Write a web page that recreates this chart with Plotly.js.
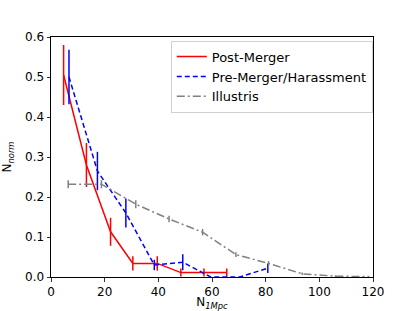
<!DOCTYPE html>
<html>
<head>
<meta charset="utf-8">
<script src="https://cdn.plot.ly/plotly-3.0.1.min.js"></script>
<style>html,body{margin:0;padding:0;background:#fff;}#chart{width:415px;height:311px;}</style>
</head>
<body>
<div id="chart"></div>
<script>
// Post-Merger
const postX = [4.7, 13.2, 22.2, 30.5, 39.6, 48.4, 57.0, 65.5];
const postY = [0.505, 0.28, 0.113, 0.034, 0.034, 0.011, 0.011, 0.011];
const postErr = [0.075, 0.055, 0.035, 0.018, 0.018, 0.01, 0.01, 0.01];
// Pre-Merger/Harassment
const preX = [6.7, 17.3, 27.9, 38.5, 49.1, 59.5, 70.3, 80.8];
const preY = [0.50, 0.265, 0.16, 0.03, 0.037, 0.0, 0.0, 0.022];
const preErr = [0.068, 0.048, 0.036, 0.013, 0.02, 0.0, 0.0, 0.012];
// Illustris
const illX = [6.4, 18.8, 31.6, 44.0, 56.5, 68.9, 81.1, 93.6, 106.0, 118.4];
const illY = [0.232, 0.232, 0.182, 0.145, 0.112, 0.056, 0.034, 0.008, 0.002, 0.001];
const illErr = [0.01, 0.01, 0.01, 0.008, 0.008, 0.006, 0.006, 0.003, 0.002, 0.001];

const xTicks = [0, 20, 40, 60, 80, 100, 120];
const yTicks = [0.0, 0.1, 0.2, 0.3, 0.4, 0.5, 0.6];

const traces = [
  {x: postX, y: postY, name: 'Post-Merger', mode: 'lines', type: 'scatter',
   line: {color: 'red', width: 1.5},
   error_y: {type: 'data', array: postErr, visible: true, width: 0, thickness: 1.5, color: 'red'}},
  {x: preX, y: preY, name: 'Pre-Merger/Harassment', mode: 'lines', type: 'scatter',
   line: {color: 'blue', width: 1.5, dash: '5px,3px'},
   error_y: {type: 'data', array: preErr, visible: true, width: 0, thickness: 1.5, color: 'blue'}},
  {x: illX, y: illY, name: 'Illustris', mode: 'lines', type: 'scatter',
   line: {color: 'gray', width: 1.5, dash: '8px,3px,2px,3px'},
   error_y: {type: 'data', array: illErr, visible: true, width: 0, thickness: 1.5, color: 'gray'}}
];

const fam = 'DejaVu Sans, sans-serif';
const layout = {
  width: 415, height: 311,
  margin: {l: 51, r: 42, t: 37, b: 34},
  paper_bgcolor: '#fff', plot_bgcolor: '#fff',
  font: {family: fam, size: 12, color: '#000'},
  showlegend: true,
  legend: {x: 0.372, y: 0.985, xanchor: 'left', yanchor: 'top',
    bgcolor: 'rgba(255,255,255,0.8)', bordercolor: '#d0d0d0', borderwidth: 1,
    font: {family: fam, size: 13, color: '#000'}, itemwidth: 30},
  xaxis: {range: [0, 120], tickvals: xTicks, ticktext: xTicks.map(String),
    showgrid: false, zeroline: false, showline: true, mirror: true, linecolor: '#000', linewidth: 1,
    ticks: 'outside', ticklen: 3.5, tickwidth: 0.8, tickcolor: '#000',
    tickfont: {family: fam, size: 12, color: '#000'},
    title: {text: 'N<sub><i>1Mpc</i></sub>', font: {family: fam, size: 12, color: '#000'}, standoff: 0}},
  yaxis: {range: [0, 0.6], tickvals: yTicks, ticktext: yTicks.map(v => v.toFixed(1)),
    showgrid: false, zeroline: false, showline: true, mirror: true, linecolor: '#000', linewidth: 1,
    ticks: 'outside', ticklen: 3.5, tickwidth: 0.8, tickcolor: '#000',
    tickfont: {family: fam, size: 12, color: '#000'},
    title: {text: 'N<sub><i>norm</i></sub>', font: {family: fam, size: 12, color: '#000'}, standoff: 12}}
};

Plotly.newPlot('chart', traces, layout, {displayModeBar: false, staticPlot: true});
</script>
</body>
</html>
